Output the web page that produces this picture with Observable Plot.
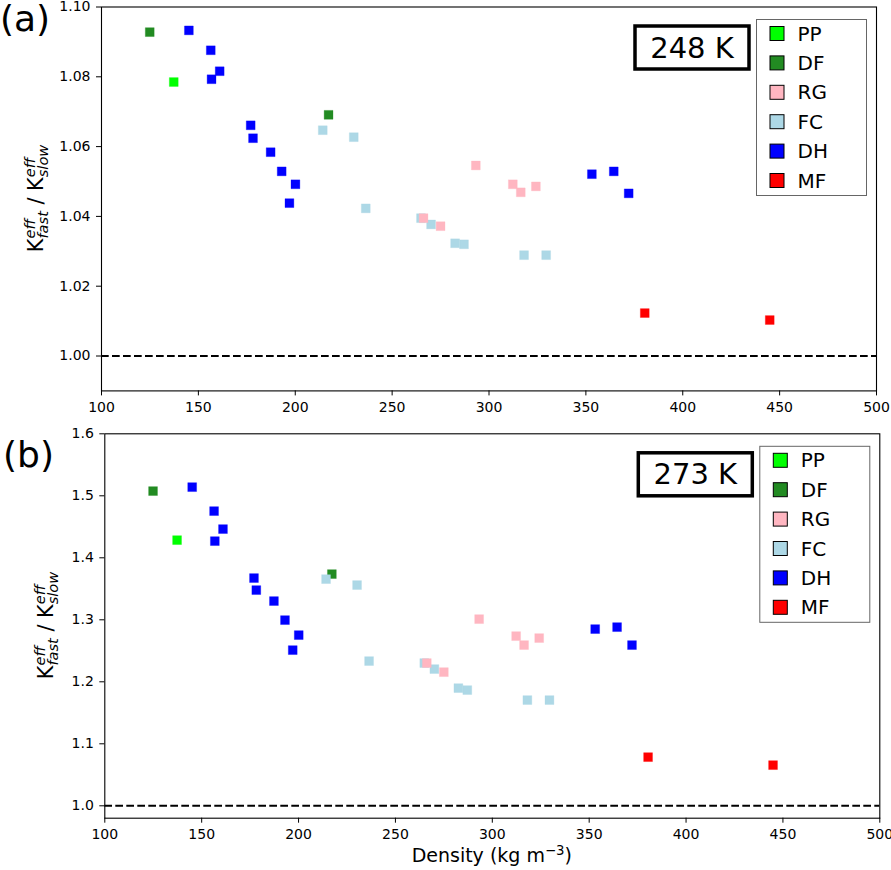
<!DOCTYPE html>
<html>
<head>
<meta charset="utf-8">
<script src="https://cdn.jsdelivr.net/npm/d3@7"></script>
<script src="https://cdn.jsdelivr.net/npm/@observablehq/plot@0.6"></script>
<style>
  body { margin: 0; background: white; }
  #chart svg { display: block; }
</style>
</head>
<body>
<div id="chart"></div>
<script>
const categories = ['PP', 'DF', 'RG', 'FC', 'DH', 'MF']
const colors = ['#00ff00', '#228b22', '#ffb6c1', '#add8e6', '#0000ff', '#ff0000']

// one entry per sample (drawing order: PP, DF, FC, RG, DH, MF)
const snowType = [
  'PP',
  'DF', 'DF',
  'FC', 'FC', 'FC', 'FC', 'FC', 'FC', 'FC', 'FC', 'FC',
  'RG', 'RG', 'RG', 'RG', 'RG', 'RG',
  'DH', 'DH', 'DH', 'DH', 'DH', 'DH', 'DH', 'DH', 'DH', 'DH', 'DH', 'DH', 'DH',
  'MF', 'MF'
]
const density = [
  137.3,
  124.9, 217.2,
  214.2, 230.2, 236.4, 264.9, 270.1, 282.5, 287.1, 318.1, 329.5,
  293.2, 312.3, 316.4, 324.2, 266.2, 275.0,
  145.1, 156.4, 161.0, 156.8, 177.0, 178.2, 187.3, 193.0, 200.1, 197.0, 353.1, 364.4, 372.1,
  380.4, 444.9
]
const ratio248 = [
  1.0785,
  1.0928, 1.0691,
  1.0647, 1.0627, 1.0423, 1.0395, 1.0377, 1.0323, 1.0320, 1.0289, 1.0289,
  1.0546, 1.0492, 1.0469, 1.0486, 1.0395, 1.0372,
  1.0933, 1.0876, 1.0816, 1.0793, 1.0661, 1.0624, 1.0584, 1.0529, 1.0492, 1.0438, 1.0521, 1.0529, 1.0466,
  1.0123, 1.0103
]
const ratio273 = [
  1.4285,
  1.5076, 1.3737,
  1.3656, 1.3560, 1.2334, 1.2302, 1.2205, 1.1898, 1.1866, 1.1705, 1.1705,
  1.3011, 1.2737, 1.2592, 1.2705, 1.2302, 1.2156,
  1.5140, 1.4753, 1.4463, 1.4269, 1.3673, 1.3479, 1.3302, 1.2995, 1.2753, 1.2511, 1.2850, 1.2882, 1.2592,
  1.0785, 1.0656
]

const xTicks = [100, 150, 200, 250, 300, 350, 400, 450, 500]
const yTicks248 = [1.00, 1.02, 1.04, 1.06, 1.08, 1.10]
const yTicks273 = [1.0, 1.1, 1.2, 1.3, 1.4, 1.5, 1.6]

const font = 'DejaVu Sans'

function yLabel(svg, cx, cy) {
  const g = svg.append('g').attr('text-anchor', 'start')
  const big = 20.8, small = 14.6
  let x = 0
  const put = (txt, size, dy, italic) => {
    const t = g.append('text').attr('x', x).attr('y', dy)
      .attr('font-size', size).attr('font-style', italic ? 'italic' : null)
      .attr('text-anchor', 'start').attr('fill', 'black').text(txt)
    return t.node().getComputedTextLength()
  }
  const kScripts = sub => {
    x += put('K', big, 0)
    const w1 = put('eff', small, -8.5, true)
    const w2 = put(sub, small, 4.5, true)
    x += Math.max(w1, w2)
  }
  kScripts('fast')
  x += put('\u00a0/\u00a0', big, 0)
  kScripts('slow')
  g.attr('transform', `translate(${cx},${cy}) rotate(-90) translate(${-x / 2},0)`)
}

function panel(o) {
  const rows = density.map((d, i) => ({type: snowType[i], density: d, ratio: o.ratios[i]}))
  const chart = Plot.plot({
    width: 891,
    height: o.height,
    marginTop: o.mt,
    marginBottom: o.mb,
    marginLeft: o.ml,
    marginRight: o.mr,
    style: {fontFamily: font, fontSize: '14px', color: 'black', background: 'white'},
    x: {domain: [100, 500]},
    y: {domain: o.yDomain},
    color: {domain: categories, range: colors},
    marks: [
      Plot.ruleY([1], {stroke: 'black', strokeWidth: 2, strokeDasharray: '7.7,3.3'}),
      Plot.dot(rows, {x: 'density', y: 'ratio', fill: 'type', stroke: 'type',
        strokeOpacity: 0.3, strokeWidth: 1, symbol: 'square', r: 5}),
      Plot.frame({stroke: 'black', strokeWidth: 1.1}),
      Plot.axisX({ticks: xTicks, tickSize: 5, tickPadding: 6, tickFormat: 'd', label: null}),
      Plot.axisY({ticks: o.yTicks, tickSize: 5, tickPadding: 6, tickFormat: o.yFormat, label: null})
    ]
  })
  d3.select('#chart').append(() => chart)
  const svg = d3.select(chart)
  const right = 891 - o.mr, top = o.mt, bottom = o.height - o.mb

  // panel letter
  svg.append('text').attr('x', o.letterX).attr('y', o.letterY).attr('text-anchor', 'start')
    .attr('font-size', 36).attr('fill', 'black').text(o.letter)

  // temperature box
  const bx = right - 127 - 114, by = top + 19.5
  svg.append('rect').attr('x', bx).attr('y', by).attr('width', 114).attr('height', 43)
    .attr('fill', 'white').attr('stroke', 'black').attr('stroke-width', 3.5)
  svg.append('text').attr('x', bx + 57).attr('y', by + 31.5).attr('text-anchor', 'middle')
    .attr('font-size', 29).attr('fill', 'black').text(o.temp)

  // legend
  const lx = right - 9.5 - 110, ly = top + 13
  svg.append('rect').attr('x', lx).attr('y', ly).attr('width', 110).attr('height', 176)
    .attr('fill', 'white').attr('stroke', '#666').attr('stroke-width', 1)
  categories.forEach((c, i) => {
    const cy = ly + 14 + i * 29.4
    svg.append('rect').attr('x', lx + 13.5).attr('y', cy - 7).attr('width', 14).attr('height', 14)
      .attr('fill', colors[i]).attr('stroke', 'black').attr('stroke-width', 1)
    svg.append('text').attr('x', lx + 41).attr('y', cy + 7).attr('text-anchor', 'start')
      .attr('font-size', 20).attr('fill', 'black').text(c)
  })

  yLabel(svg, o.yLabelX, (top + bottom) / 2)

  if (o.xLabel) {
    const t = svg.append('text').attr('x', (o.ml + right) / 2).attr('y', o.height - 8)
      .attr('text-anchor', 'middle').attr('font-size', 19).attr('fill', 'black')
    t.append('tspan').text('Density (kg m')
    t.append('tspan').attr('font-size', 13.3).attr('dy', -7.5).text('\u22123')
    t.append('tspan').attr('dy', 7.5).text(')')
  }
}

panel({
  ratios: ratio248, yDomain: [0.99, 1.10], yTicks: yTicks248, yFormat: '.2f',
  height: 420, mt: 6.5, mb: 29.6, ml: 101, mr: 15,
  letter: '(a)', letterX: 0, letterY: 31, temp: '248 K', yLabelX: 43, xLabel: false
})
panel({
  ratios: ratio273, yDomain: [0.98, 1.6], yTicks: yTicks273, yFormat: '.1f',
  height: 450, mt: 13.3, mb: 52.3, ml: 104.3, mr: 11.7,
  letter: '(b)', letterX: 3, letterY: 47, temp: '273 K', yLabelX: 53, xLabel: true
})
</script>
</body>
</html>
